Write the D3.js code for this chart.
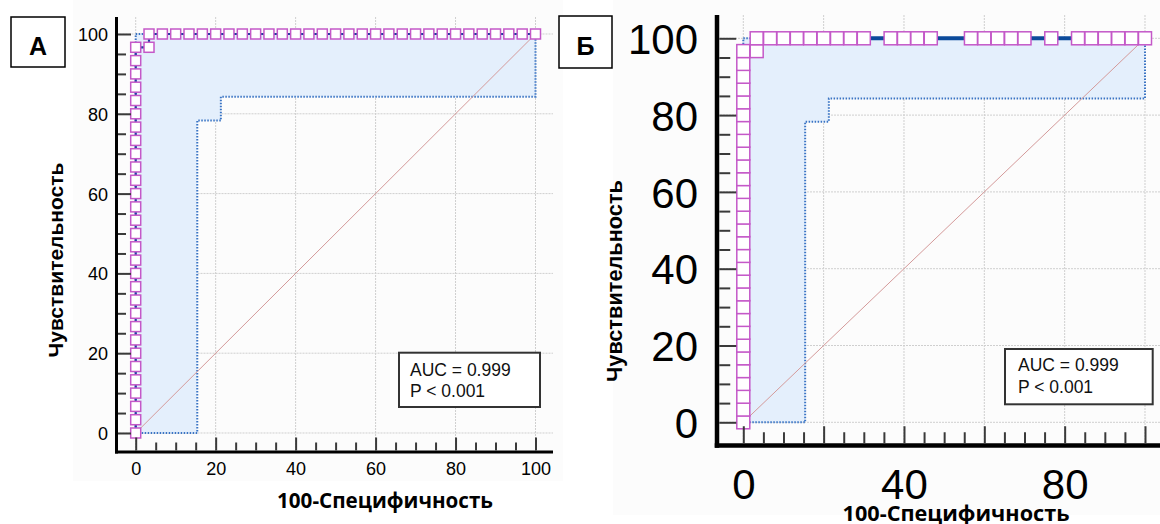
<!DOCTYPE html>
<html><head><meta charset="utf-8">
<script src="https://cdn.jsdelivr.net/npm/d3@7"></script>
<style>body{margin:0;background:#fff;} svg{display:block}</style>
</head><body>
<svg id="c" width="1160" height="524"></svg>
<script>
// ---- data ----
const majorTicks = [0, 20, 40, 60, 80, 100];
const xTickLabelsA = [0, 20, 40, 60, 80, 100];
const yTickLabelsA = [0, 20, 40, 60, 80, 100];
const xTickLabelsB = [0, 40, 80];
const yTickLabelsB = [0, 20, 40, 60, 80, 100];
const sensColumn = [0,3.33,6.67,10,13.33,16.67,20,23.33,26.67,30,33.33,36.67,40,43.33,46.67,50,53.33,56.67,60,63.33,66.67,70,73.33,76.67,80,83.33,86.67,90,93.33,96.67];
const fprRow = [3.33,6.67,10,13.33,16.67,20,23.33,26.67,30,33.33,36.67,40,43.33,46.67,50,53.33,56.67,60,63.33,66.67,70,73.33,76.67,80,83.33,86.67,90,93.33,96.67,100];
const cornerPoint = [3.33, 96.67];
const fprRowMarkersB = [3.33,6.67,10,13.33,16.67,20,23.33,26.67,30,36.67,40,43.33,46.67,56.67,60,63.33,66.67,70,76.67,83.33,86.67,90,93.33,96.67,100];
const ciLowerX = [0, 15.4, 15.4, 21.3, 21.3, 100, 100];
const ciLowerY = [0, 0, 78.3, 78.3, 84.3, 84.3, 100];
const ciUpperX = [0, 0, 100];
const ciUpperY = [0, 100, 100];
const aucLines = ["AUC = 0.999", "P < 0.001"];
const panelLabels = ["А", "Б"];
const xTitle = "100-Специфичность";
const yTitle = "Чувствительность";

// ROC points
const rocPts = sensColumn.map(s => [0, s]).concat([cornerPoint]).concat(fprRow.map(x => [x, 100]));
const markersA = rocPts;
const markersB = sensColumn.map(s => [0, s]).concat([cornerPoint]).concat(fprRowMarkersB.map(x => [x, 100]));

const panels = [
  {xr:[135.7,535.5], yr:[433,34], axX:116.5, axY:452, top:17, right:553,
   sq:10, lineW:2.2, lineColor:"#1f3f9f", tickFont:18, majorLen:13, minorLen:8, axisW:3,
   xLabels:xTickLabelsA, yLabels:yTickLabelsA, yLabelX:108, xLabelBase:475,
   box:{x:399,y:352.7,w:141,h:54.3,tx:410,b1:375.5,b2:397,fs:17.5},
   label:{x:11,y:17,w:54,h:50,tx:38,ty:55,text:panelLabels[0]},
   xt:{cx:385,y:508,w:216}, yt:{x:63,cy:260,w:195},
   bg:{x:73,y:0,w:490,h:481}, markers:markersA},
  {xr:[743.3,1145], yr:[422.3,38.3], axX:717, axY:445.5, top:15, right:1160,
   sq:13, lineW:4, lineColor:"#0b4a9a", tickFont:42, majorLen:17, minorLen:11, axisW:4.5,
   xLabels:xTickLabelsB, yLabels:yTickLabelsB, yLabelX:698, xLabelBase:499,
   box:{x:1005,y:349,w:147.7,h:55.3,tx:1018,b1:371,b2:392.5,fs:17.5},
   label:{x:559,y:16,w:53,h:52,tx:585.5,ty:55,text:panelLabels[1]},
   xt:{cx:956,y:521,w:227}, yt:{x:622,cy:281,w:202},
   bg:{x:613,y:0,w:547,h:515}, markers:markersB}
];

const svg = d3.select("#c");
const minorTicks = d3.range(0, 101, 5);

function fit(t, w) {
  const fs = parseFloat(t.attr("font-size"));
  const len = t.node().getComputedTextLength();
  t.attr("font-size", fs * w / len);
}

panels.forEach(p => {
  const g = svg.append("g");
  const x = d3.scaleLinear().domain([0,100]).range(p.xr);
  const y = d3.scaleLinear().domain([0,100]).range(p.yr);

  g.append("rect").attr("x",p.bg.x).attr("y",p.bg.y).attr("width",p.bg.w).attr("height",p.bg.h).attr("fill","#fcfcfc");

  // grid
  g.selectAll(".gv").data(majorTicks).join("line")
    .attr("x1",d=>x(d)).attr("x2",d=>x(d)).attr("y1",p.top).attr("y2",p.axY)
    .attr("stroke","#cfcfcf").attr("stroke-width",1).attr("stroke-dasharray","2,1");
  g.selectAll(".gh").data(majorTicks).join("line")
    .attr("x1",p.axX).attr("x2",p.right).attr("y1",d=>y(d)).attr("y2",d=>y(d))
    .attr("stroke","#cfcfcf").attr("stroke-width",1).attr("stroke-dasharray","2,1");

  // CI band
  const lower = ciLowerX.map((v,i)=>[v, ciLowerY[i]]);
  const upper = ciUpperX.map((v,i)=>[v, ciUpperY[i]]);
  const band = upper.concat(lower.slice().reverse());
  const line = d3.line().x(d=>x(d[0])).y(d=>y(d[1]));
  g.append("path").attr("d", line(band) + "Z").attr("fill","#e4effc").attr("stroke","none");
  g.append("path").attr("d", line(lower)).attr("fill","none").attr("stroke","#3a74c4")
    .attr("stroke-width",2).attr("stroke-dasharray","1.5,1.5");
  g.append("path").attr("d", line(upper)).attr("fill","none").attr("stroke","#3a74c4")
    .attr("stroke-width",2).attr("stroke-dasharray","1.5,1.5");

  // diagonal
  g.append("path").attr("d", line([[0,0],[100,100]])).attr("stroke","#d49a9a").attr("stroke-width",1).attr("fill","none");

  // ROC line
  g.append("path").attr("d", line(rocPts)).attr("fill","none").attr("stroke",p.lineColor).attr("stroke-width",p.lineW);

  // markers
  g.selectAll(".m").data(p.markers).join("rect")
    .attr("x",d=>x(d[0])-p.sq/2).attr("y",d=>y(d[1])-p.sq/2)
    .attr("width",p.sq).attr("height",p.sq)
    .attr("fill","#fff").attr("stroke","#c458c8").attr("stroke-width",1.5);

  // axes lines
  g.append("line").attr("x1",p.axX).attr("x2",p.axX).attr("y1",p.top).attr("y2",p.axY+p.axisW/2)
    .attr("stroke","#000").attr("stroke-width",p.axisW);
  g.append("line").attr("x1",p.axX-p.axisW/2).attr("x2",p.right).attr("y1",p.axY).attr("y2",p.axY)
    .attr("stroke","#000").attr("stroke-width",p.axisW);

  // ticks via d3 axes (inward)
  const yMinor = d3.axisRight(y).tickValues(minorTicks.filter(v=>v%20)).tickSize(p.minorLen).tickFormat("");
  const yMajor = d3.axisRight(y).tickValues(majorTicks).tickSize(p.majorLen).tickFormat("");
  const xMinor = d3.axisTop(x).tickValues(minorTicks.filter(v=>v%20)).tickSize(p.minorLen).tickFormat("");
  const xMajor = d3.axisTop(x).tickValues(majorTicks).tickSize(p.majorLen).tickFormat("");
  [yMinor,yMajor].forEach(a=>{
    const ag = g.append("g").attr("transform",`translate(${p.axX+p.axisW/2},0)`).call(a);
    ag.select(".domain").remove();
    ag.selectAll("line").attr("stroke","#3a3a3a").attr("stroke-width",2);
  });
  [xMinor,xMajor].forEach(a=>{
    const ag = g.append("g").attr("transform",`translate(0,${p.axY-p.axisW/2})`).call(a);
    ag.select(".domain").remove();
    ag.selectAll("line").attr("stroke","#3a3a3a").attr("stroke-width",2);
  });

  // tick labels
  const yl = d3.axisLeft(y).tickValues(p.yLabels).tickSize(0).tickPadding(0);
  const ylg = g.append("g").attr("transform",`translate(${p.yLabelX},0)`).call(yl);
  ylg.select(".domain").remove();
  ylg.selectAll("text").attr("font-family","'Liberation Sans', Arial, sans-serif")
    .attr("font-size",p.tickFont).attr("fill","#000").attr("dy","0.36em").attr("x",0);
  const xl = d3.axisBottom(x).tickValues(p.xLabels).tickSize(0).tickPadding(0);
  const xlg = g.append("g").attr("transform",`translate(0,${p.xLabelBase})`).call(xl);
  xlg.select(".domain").remove();
  xlg.selectAll("text").attr("font-family","'Liberation Sans', Arial, sans-serif")
    .attr("font-size",p.tickFont).attr("fill","#000").attr("dy","0").attr("y",0);

  // titles
  const xtT = g.append("text").attr("x",p.xt.cx).attr("y",p.xt.y).attr("text-anchor","middle")
    .attr("font-family","'Open Sans', sans-serif").attr("font-weight","bold").attr("font-size",18)
    .text(xTitle);
  fit(xtT, p.xt.w);
  const ytT = g.append("text").attr("transform",`translate(${p.yt.x},${p.yt.cy}) rotate(-90)`)
    .attr("text-anchor","middle")
    .attr("font-family","'Liberation Sans', Arial, sans-serif").attr("font-weight","bold").attr("font-size",18)
    .text(yTitle);
  fit(ytT, p.yt.w);

  // AUC box
  g.append("rect").attr("x",p.box.x).attr("y",p.box.y).attr("width",p.box.w).attr("height",p.box.h)
    .attr("fill","#fff").attr("stroke","#333").attr("stroke-width",2);
  g.selectAll(".auc").data(aucLines).join("text")
    .attr("x",p.box.tx).attr("y",(d,i)=> i ? p.box.b2 : p.box.b1)
    .attr("font-family","'Liberation Sans', Arial, sans-serif").attr("font-size",p.box.fs).attr("fill","#111")
    .text(d=>d);

  // panel label
  g.append("rect").attr("x",p.label.x).attr("y",p.label.y).attr("width",p.label.w).attr("height",p.label.h)
    .attr("fill","#fff").attr("stroke","#000").attr("stroke-width",1.5);
  g.append("text").attr("x",p.label.tx).attr("y",p.label.ty).attr("text-anchor","middle")
    .attr("font-family","'Liberation Sans', Arial, sans-serif").attr("font-weight","bold").attr("font-size",25)
    .text(p.label.text);
});
</script>
</body></html>
